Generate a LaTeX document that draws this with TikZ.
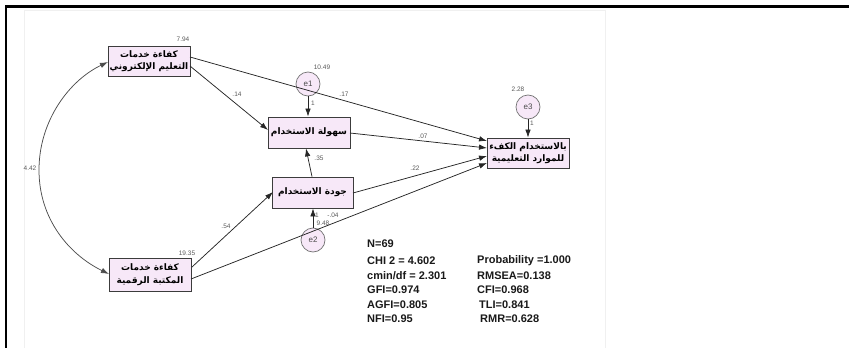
\documentclass[tikz,border=0pt]{standalone}
\usepackage{fontspec}
\setmainfont{Liberation Sans}
\newfontfamily\arabicfont[Script=Arabic]{DejaVu Sans}
\TeXXeTstate=1
\usetikzlibrary{arrows.meta}
\definecolor{boxfill}{RGB}{247,232,248}
\definecolor{edgegray}{RGB}{60,60,60}
\tikzset{
  varbox/.style={draw=edgegray, fill=boxfill, line width=0.8pt, inner sep=0pt,
    align=center, font=\arabicfont\bfseries\fontsize{9}{12.5}\selectfont},
  errcirc/.style={circle, draw=black!55, fill=boxfill, line width=0.7pt,
    minimum size=24pt, inner sep=0pt, font=\fontsize{8}{9}\selectfont, text=black!70},
  path/.style={draw=black!85, line width=0.75pt, -{Latex[length=8pt,width=5.5pt]}},
  covpath/.style={draw=black!70, line width=0.75pt, {Latex[length=8pt,width=5.5pt]}-{Latex[length=8pt,width=5.5pt]}},
  est/.style={inner sep=0pt, font=\fontsize{6.5}{7}\selectfont, text=black!65},
  fit/.style={anchor=west, inner sep=0pt, font=\bfseries\fontsize{11}{12}\selectfont, text=black!90}
}
\begin{document}
\begin{tikzpicture}[x=1pt,y=-1pt]
\useasboundingbox (0,0) rectangle (849,348);
% page frame
\draw[black!6, line width=0.6pt] (24,10) rectangle (605,348);
\draw[line width=2.2pt] (6,348) -- (6,6.5) -- (849,6.5);

% observed variables
\node[varbox, minimum width=82pt, minimum height=30pt] (A) at (149,61)
  {\beginR كفاءة خدمات\endR\\\beginR التعليم الإلكتروني\endR};
\node[varbox, minimum width=82pt, minimum height=33pt] (B) at (150,274.5)
  {\beginR كفاءة خدمات\endR\\\beginR المكتبة الرقمية\endR};
\node[varbox, minimum width=82pt, minimum height=31pt] (C) at (309,132.5)
  {\beginR سهولة الاستخدام\endR};
\node[varbox, minimum width=81pt, minimum height=31pt] (D) at (312.5,192.5)
  {\beginR جودة الاستخدام\endR};
\node[varbox, minimum width=82pt, minimum height=30pt] (E) at (528,153)
  {\beginR بالاستخدام الكفء\endR\\\beginR للموارد التعليمية\endR};

% error terms
\node[errcirc] (e1) at (308,84) {e1};
\node[errcirc] (e2) at (313,240) {e2};
\node[errcirc] (e3) at (528,107) {e3};

% anchor points on box edges
\coordinate (aC) at (190,66);
\coordinate (aE) at (190,57);
\coordinate (cIn) at (268,130);
\coordinate (cOut) at (350,133);
\coordinate (dOut) at (353,193);
\coordinate (bD) at (192,267);
\coordinate (bE) at (191,279);
\coordinate (dIn) at (273,192);
\coordinate (eA) at (487,141);
\coordinate (eC) at (487,148);
\coordinate (eD) at (487,156);
\coordinate (eB) at (487,163);

% regression paths
\draw[path] (aC) -- (cIn);
\draw[path] (aE) -- (eA);
\draw[path] (cOut) -- (eC);
\draw[path] (dOut) -- (eD);
\draw[path] (bE) -- (eB);
\draw[path] (bD) -- (dIn);
\draw[path] (D.north) ++(-0.5,0) -- ([xshift=-3pt]C.south);
\draw[path] (e1) -- (e1 |- C.north);
\draw[path] (e2) -- (e2 |- D.south);
\draw[path] (e3) -- (E.north);

% covariance
\draw[covpath] (108,62) .. controls (70,80) and (39,120) .. (39,170)
  .. controls (39,220) and (70,255) .. (109,274);

% estimates
\node[est] (v1) at (183,39) {7.94};
\node[est] (v2) at (187,253) {19.35};
\node[est] (v3) at (322,67) {10.49};
\node[est] (v4) at (518,89) {2.28};
\node[est] (v5) at (30,168) {4.42};
\node[est] (p1) at (237,94) {.14};
\node[est] (p2) at (344,94) {.17};
\node[est] (p3) at (423,136) {.07};
\node[est] (p4) at (319,158) {.35};
\node[est] (p5) at (415,168) {.22};
\node[est] (p6) at (226,226) {.54};
\node[est] (w1) at (313,103) {1};
\node[est] (w2) at (532,123) {1};
\node[est] (w3) at (317,215) {1};
\node[est] (i2) at (333,215) {-.04};
\node[est] (v6) at (323,223) {9.48};

% fit indices
\node[fit] (n) at (367,244) {N=69};
\node[fit] (chi) at (367,261) {CHI 2 = 4.602};
\node[fit] (cmin) at (367,275.5) {cmin/df = 2.301};
\node[fit] (gfi) at (367,290) {GFI=0.974};
\node[fit] (agfi) at (367,304.5) {AGFI=0.805};
\node[fit] (nfi) at (367,319) {NFI=0.95};
\node[fit] (prob) at (477,261) {Probability =1.000};
\node[fit] (rmsea) at (477,275.5) {RMSEA=0.138};
\node[fit] (cfi) at (477,290) {CFI=0.968};
\node[fit] (tli) at (479,304.5) {TLI=0.841};
\node[fit] (rmr) at (480,319) {RMR=0.628};
\end{tikzpicture}
\end{document}
